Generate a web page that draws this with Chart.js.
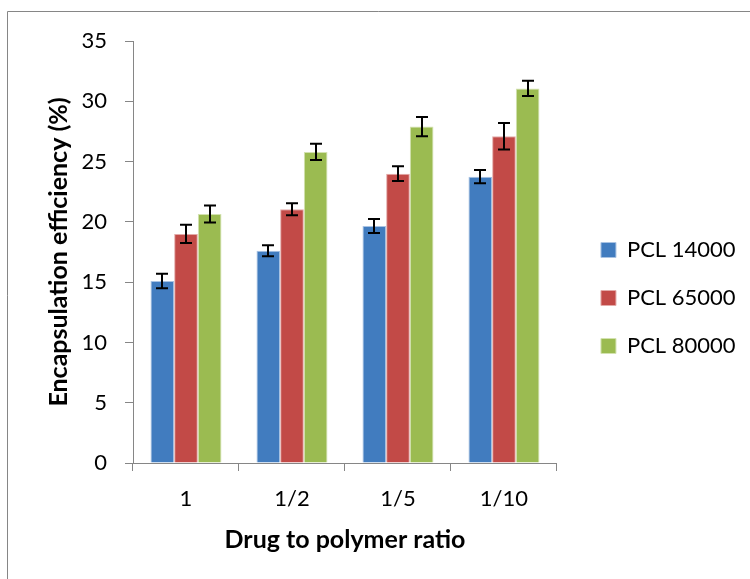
<!DOCTYPE html>
<html>
<head>
<meta charset="utf-8">
<script src="https://cdn.jsdelivr.net/npm/chart.js@4"></script>
<style>
  html, body { margin: 0; padding: 0; background: #fff; }
  #wrap { position: relative; width: 750px; height: 579px; }
</style>
</head>
<body>
<div id="wrap"><canvas id="c" width="750" height="579"></canvas></div>
<script>
const categories = ['1', '1/2', '1/5', '1/10'];
const seriesNames = ['PCL 14000', 'PCL 65000', 'PCL 80000'];
const pcl14000 = [15.1, 17.6, 19.65, 23.75];
const pcl65000 = [19.0, 21.05, 24.0, 27.1];
const pcl80000 = [20.65, 25.8, 27.9, 31.07];
const err14000 = [0.6, 0.45, 0.58, 0.55];
const err65000 = [0.75, 0.5, 0.62, 1.1];
const err80000 = [0.7, 0.68, 0.8, 0.63];
const yTicks = [0, 5, 10, 15, 20, 25, 30, 35];

const AXIS_GREY = '#868686';
const FONT = 'Lato';
const LEGEND_SHIFT = 18;

const framePlugin = {
  id: 'frame',
  beforeDraw(chart) {
    const ctx = chart.ctx;
    ctx.save();
    ctx.strokeStyle = AXIS_GREY;
    ctx.lineWidth = 1;
    ctx.beginPath();
    ctx.moveTo(7.5, chart.height);
    ctx.lineTo(7.5, 11.5);
    ctx.lineTo(chart.width, 11.5);
    ctx.stroke();
    ctx.restore();
  }
};

const errorBarPlugin = {
  id: 'errorBars',
  afterDatasetsDraw(chart) {
    const ctx = chart.ctx;
    const y = chart.scales.y;
    ctx.save();
    ctx.strokeStyle = '#000';
    ctx.lineWidth = 2;
    chart.data.datasets.forEach((ds, di) => {
      const meta = chart.getDatasetMeta(di);
      meta.data.forEach((bar, i) => {
        const v = ds.data[i], e = ds.errors[i];
        const top = y.getPixelForValue(v + e);
        const bot = y.getPixelForValue(v - e);
        const x = Math.round(bar.x);
        ctx.beginPath();
        ctx.moveTo(x, top); ctx.lineTo(x, bot);
        ctx.moveTo(x - 6, top); ctx.lineTo(x + 6, top);
        ctx.moveTo(x - 6, bot); ctx.lineTo(x + 6, bot);
        ctx.stroke();
      });
    });
    ctx.restore();
  }
};

const legendShiftPlugin = {
  id: 'legendShift',
  afterLayout(chart) {
    const lg = chart.legend;
    if (lg) { lg.left += LEGEND_SHIFT; lg.right += LEGEND_SHIFT; }
  }
};

new Chart(document.getElementById('c'), {
  type: 'bar',
  data: {
    labels: categories,
    datasets: [
      { label: seriesNames[0], data: pcl14000, errors: err14000, backgroundColor: '#417CBF', borderColor: '#A9C3E3', borderWidth: 1 },
      { label: seriesNames[1], data: pcl65000, errors: err65000, backgroundColor: '#C24A47', borderColor: '#E3AAA8', borderWidth: 1 },
      { label: seriesNames[2], data: pcl80000, errors: err80000, backgroundColor: '#9BBB51', borderColor: '#D3E2B0', borderWidth: 1 }
    ]
  },
  options: {
    responsive: false,
    animation: false,
    devicePixelRatio: 1,
    layout: { padding: { top: 41, bottom: 24, left: 0, right: 22.4 } },
    datasets: { bar: { categoryPercentage: 0.67, barPercentage: 1.0 } },
    plugins: {
      tooltip: { enabled: false },
      legend: {
        position: 'right',
        align: 'center',
        labels: {
          font: { family: FONT, size: 22 },
          color: '#000',
          boxWidth: 15,
          boxHeight: 15,
          padding: 26
        }
      }
    },
    scales: {
      x: {
        afterFit(scale) { scale.height = 92; },
        grid: { display: true, drawOnChartArea: false, drawTicks: true, tickLength: 8, color: AXIS_GREY, offset: true },
        border: { display: true, color: AXIS_GREY, width: 1 },
        ticks: { font: { family: FONT, size: 22 }, color: '#000', padding: 15, maxRotation: 0 },
        title: { display: true, text: 'Drug to polymer ratio', font: { family: FONT, size: 25, weight: 'bold' }, color: '#000', padding: { top: 0, bottom: 0 } }
      },
      y: {
        min: 0, max: 35,
        afterFit(scale) { scale.width = 133; },
        afterBuildTicks(scale) { scale.ticks = yTicks.map(v => ({ value: v })); },
        grid: { display: true, drawOnChartArea: false, drawTicks: true, tickLength: 8, color: AXIS_GREY },
        border: { display: true, color: AXIS_GREY, width: 1 },
        ticks: { font: { family: FONT, size: 22 }, color: '#000', padding: 18 },
        title: { display: true, text: 'Encapsulation efficiency (%)', font: { family: FONT, size: 25, weight: 'bold' }, color: '#000', padding: { top: 44, bottom: 0 } }
      }
    }
  },
  plugins: [framePlugin, errorBarPlugin, legendShiftPlugin]
});
</script>
</body>
</html>
